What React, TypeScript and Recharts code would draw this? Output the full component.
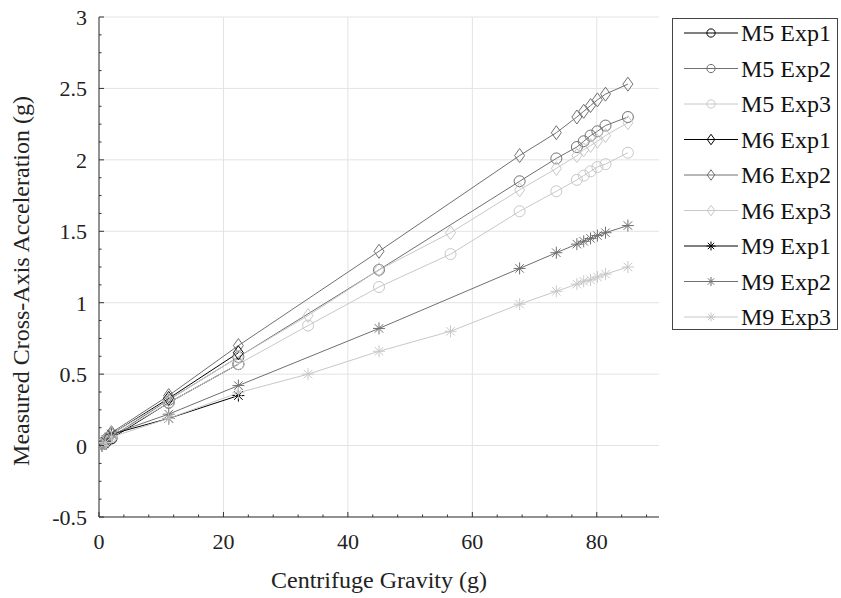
import React from 'react';
import { LineChart, Line, XAxis, YAxis, CartesianGrid, Legend } from 'recharts';

// centrifuge gravity levels (g) for each experiment run
const exp1G = [0.5, 1, 2, 11.2, 22.4];
const exp2G = [0.5, 1, 2, 11.2, 22.4, 45, 67.6, 73.5, 76.8, 77.9, 79.0, 80.1, 81.4, 85];
const exp3G = [0.5, 1, 2, 11.2, 22.4, 33.6, 45, 56.5, 67.6, 73.5, 76.8, 77.9, 79.0, 80.1, 81.4, 85];

// measured cross-axis acceleration (g)
const m5Exp1 = [0.01, 0.02, 0.05, 0.3, 0.57];
const m5Exp2 = [0.01, 0.03, 0.06, 0.32, 0.62, 1.23, 1.85, 2.01, 2.09, 2.13, 2.17, 2.2, 2.24, 2.3];
const m5Exp3 = [0.01, 0.03, 0.06, 0.3, 0.57, 0.84, 1.11, 1.34, 1.64, 1.78, 1.86, 1.89, 1.92, 1.95, 1.97, 2.05];
const m6Exp1 = [0.02, 0.04, 0.08, 0.33, 0.65];
const m6Exp2 = [0.02, 0.04, 0.09, 0.35, 0.7, 1.36, 2.03, 2.19, 2.3, 2.34, 2.38, 2.42, 2.46, 2.53];
const m6Exp3 = [0.02, 0.04, 0.08, 0.32, 0.62, 0.91, 1.23, 1.49, 1.79, 1.94, 2.03, 2.07, 2.1, 2.13, 2.17, 2.26];
const m9Exp1 = [0.0, 0.03, 0.08, 0.19, 0.35];
const m9Exp2 = [0.0, 0.03, 0.08, 0.22, 0.42, 0.82, 1.24, 1.35, 1.41, 1.43, 1.45, 1.47, 1.49, 1.54];
const m9Exp3 = [0.0, 0.02, 0.06, 0.19, 0.37, 0.5, 0.66, 0.8, 0.99, 1.08, 1.13, 1.15, 1.16, 1.18, 1.2, 1.25];

const xMajor = [0, 20, 40, 60, 80];
const yMajor = [-0.5, 0, 0.5, 1, 1.5, 2, 2.5, 3];
const xTicks = Array.from({ length: 23 }, (_, i) => i * 4);
const yTicks = Array.from({ length: 29 }, (_, i) => -0.5 + i * 0.125);

const BLACK = '#000000';
const GRAY = '#707070';
const LIGHT = '#c8c8c8';
const FONT = 'Liberation Serif, DejaVu Serif, serif';

type Shape = 'circle' | 'diamond' | 'star';

const zip = (xs: number[], ys: number[]) => xs.map((x, i) => ({ x, y: ys[i] }));

const series = [
  { name: 'M5 Exp1', data: zip(exp1G, m5Exp1), color: BLACK, shape: 'circle' as Shape },
  { name: 'M5 Exp2', data: zip(exp2G, m5Exp2), color: GRAY, shape: 'circle' as Shape },
  { name: 'M5 Exp3', data: zip(exp3G, m5Exp3), color: LIGHT, shape: 'circle' as Shape },
  { name: 'M6 Exp1', data: zip(exp1G, m6Exp1), color: BLACK, shape: 'diamond' as Shape },
  { name: 'M6 Exp2', data: zip(exp2G, m6Exp2), color: GRAY, shape: 'diamond' as Shape },
  { name: 'M6 Exp3', data: zip(exp3G, m6Exp3), color: LIGHT, shape: 'diamond' as Shape },
  { name: 'M9 Exp1', data: zip(exp1G, m9Exp1), color: BLACK, shape: 'star' as Shape },
  { name: 'M9 Exp2', data: zip(exp2G, m9Exp2), color: GRAY, shape: 'star' as Shape },
  { name: 'M9 Exp3', data: zip(exp3G, m9Exp3), color: LIGHT, shape: 'star' as Shape },
];

function Marker({ shape, cx, cy, color, s = 1 }: { shape: Shape; cx: number; cy: number; color: string; s?: number }) {
  if (shape === 'circle') {
    return <circle cx={cx} cy={cy} r={5.5 * s} fill="none" stroke={color} strokeWidth={1} />;
  }
  if (shape === 'diamond') {
    const w = 5 * s;
    const h = 7 * s;
    return (
      <polygon
        points={`${cx},${cy - h} ${cx + w},${cy} ${cx},${cy + h} ${cx - w},${cy}`}
        fill="none"
        stroke={color}
        strokeWidth={1}
      />
    );
  }
  const r = 6 * s;
  const d = r * 0.707;
  return (
    <g stroke={color} strokeWidth={1}>
      <line x1={cx - r} y1={cy} x2={cx + r} y2={cy} />
      <line x1={cx} y1={cy - r} x2={cx} y2={cy + r} />
      <line x1={cx - d} y1={cy - d} x2={cx + d} y2={cy + d} />
      <line x1={cx - d} y1={cy + d} x2={cx + d} y2={cy - d} />
    </g>
  );
}

const makeDot = (shape: Shape, color: string) => (props: any) => {
  const { cx, cy, index } = props;
  if (cx == null || cy == null) return <g key={index} />;
  return (
    <g key={index}>
      <Marker shape={shape} cx={cx} cy={cy} color={color} />
    </g>
  );
};

const textStyle = { fontFamily: FONT, fontSize: 22, fill: '#222' };

const XTick = (props: any) => {
  const { x, y, payload } = props;
  const major = xMajor.includes(payload.value);
  return (
    <g>
      <line x1={x} y1={y} x2={x} y2={y - (major ? 5 : 2.5)} stroke="#333" strokeWidth={1} />
      {major && (
        <text x={x} y={y + 32} textAnchor="middle" style={textStyle}>
          {payload.value}
        </text>
      )}
    </g>
  );
};

const YTick = (props: any) => {
  const { x, y, payload } = props;
  const major = yMajor.some((v) => Math.abs(v - payload.value) < 1e-6);
  return (
    <g>
      <line x1={x} y1={y} x2={x + (major ? 5 : 2.5)} y2={y} stroke="#333" strokeWidth={1} />
      {major && (
        <text x={x - 12} y={y + 8} textAnchor="end" style={textStyle}>
          {payload.value}
        </text>
      )}
    </g>
  );
};

const LegendBox = () => (
  <svg width={166} height={312} style={{ display: 'block' }}>
    <rect x={0.5} y={0.5} width={165} height={311} fill="#fff" stroke="#444" strokeWidth={1} />
    {series.map((s, i) => {
      const cy = 15 + i * 35.5;
      return (
        <g key={s.name}>
          <line x1={12} y1={cy} x2={66} y2={cy} stroke={s.color} strokeWidth={1} />
          <Marker shape={s.shape} cx={39} cy={cy} color={s.color} s={0.75} />
          <text x={69} y={cy + 8} style={{ fontFamily: FONT, fontSize: 24, fill: '#111' }}>
            {s.name}
          </text>
        </g>
      );
    })}
  </svg>
);

export default function App() {
  return (
    <div style={{ position: 'absolute', left: 0, top: 0, width: 841, height: 598, background: '#fff', fontFamily: FONT }}>
      <LineChart width={841} height={598} margin={{ top: 17, right: 182, bottom: 0, left: 0 }}>
        <CartesianGrid
          stroke="#e3e3e3"
          strokeWidth={1}
          horizontalValues={yMajor}
          verticalValues={xMajor}
        />
        <XAxis
          type="number"
          dataKey="x"
          domain={[0, 90]}
          ticks={xTicks}
          interval={0}
          height={81}
          tickSize={0}
          tickMargin={0}
          tickLine={false}
          tick={<XTick />}
          axisLine={{ stroke: '#333', strokeWidth: 1 }}
          allowDataOverflow
          label={{
            value: 'Centrifuge Gravity (g)',
            position: 'insideBottom',
            offset: 10,
            style: { fontSize: 24, fontFamily: FONT, fill: '#222' },
          }}
        />
        <YAxis
          type="number"
          domain={[-0.5, 3]}
          ticks={yTicks}
          interval={0}
          width={99}
          tickSize={0}
          tickMargin={0}
          tickLine={false}
          tick={<YTick />}
          axisLine={{ stroke: '#333', strokeWidth: 1 }}
          allowDataOverflow
          label={{
            value: 'Measured Cross-Axis Acceleration (g)',
            angle: -90,
            position: 'insideLeft',
            offset: 20,
            dy: 14,
            style: { fontSize: 24, fontFamily: FONT, fill: '#222', textAnchor: 'middle' },
          }}
        />
        {series.map((s) => (
          <Line
            key={s.name}
            name={s.name}
            data={s.data}
            dataKey="y"
            stroke={s.color}
            strokeWidth={1}
            dot={makeDot(s.shape, s.color)}
            activeDot={false}
            isAnimationActive={false}
          />
        ))}
        <Legend
          layout="horizontal"
          verticalAlign="middle"
          align="center"
          content={() => <LegendBox />}
          wrapperStyle={{ left: 672, top: 18, width: 166, height: 312 }}
        />
      </LineChart>
    </div>
  );
}
